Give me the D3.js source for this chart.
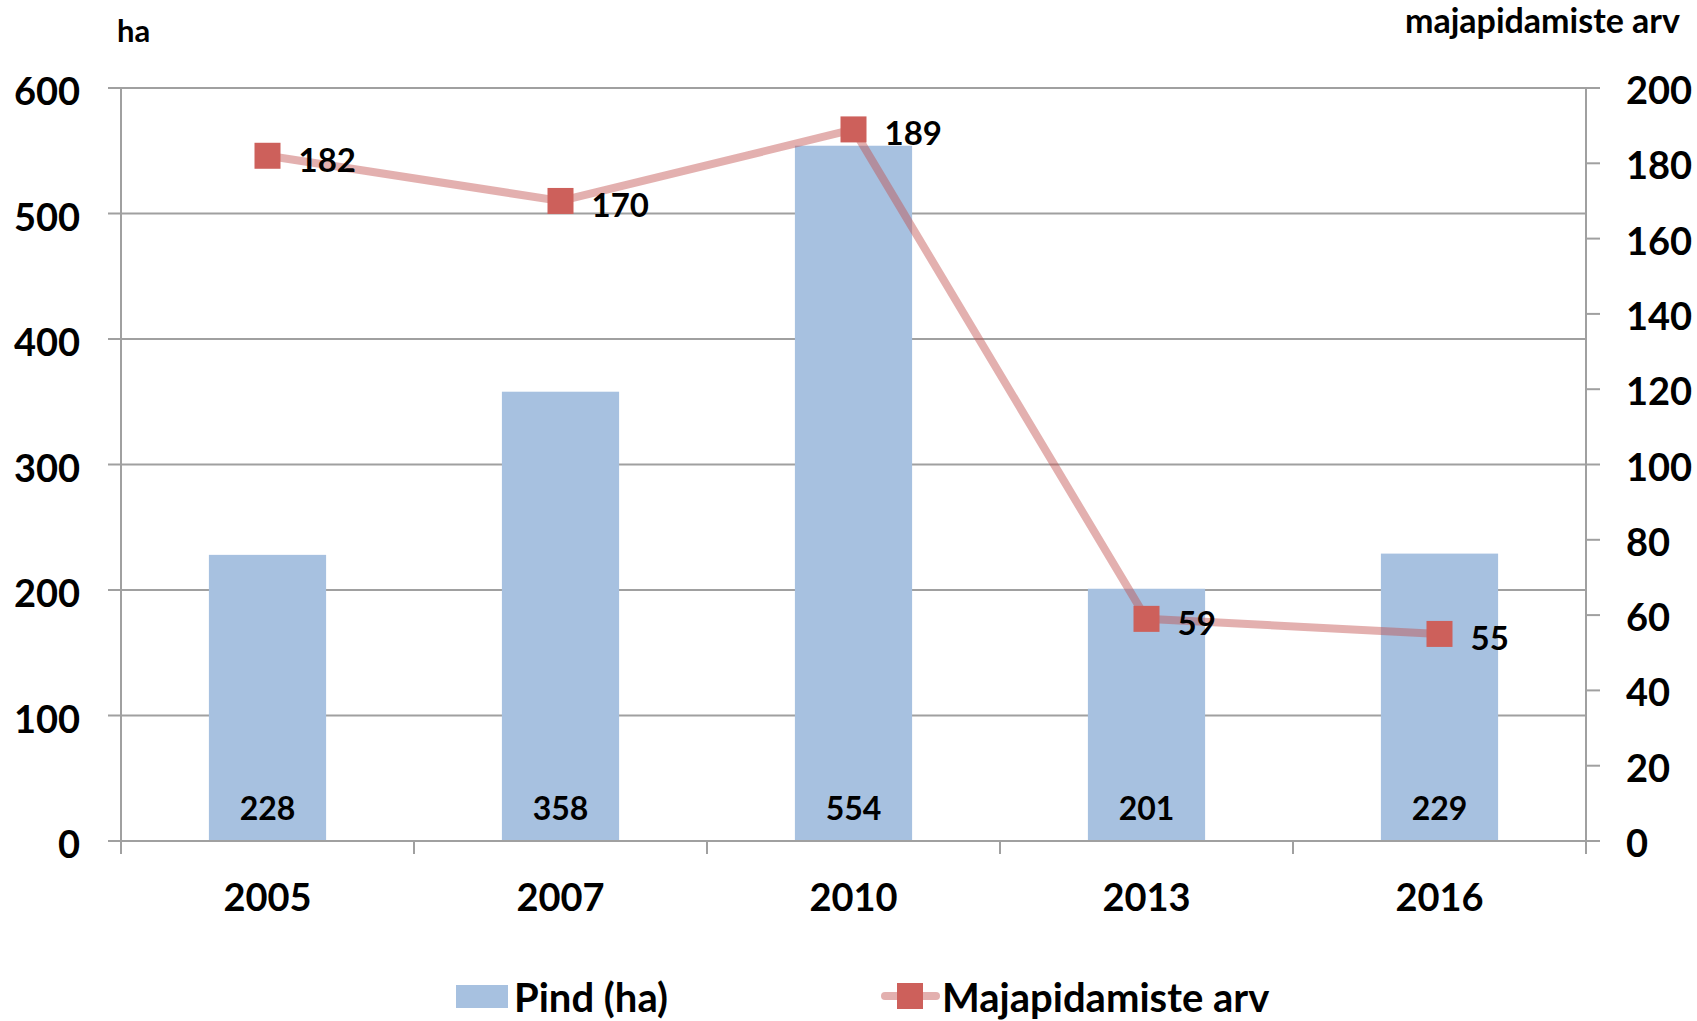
<!DOCTYPE html>
<html>
<head>
<meta charset="utf-8">
<script src="https://cdn.jsdelivr.net/npm/d3@7"></script>
<style>
    body { margin: 0; background: #fff; }
    svg text { font-family: Lato, "Open Sans", sans-serif; font-weight: bold; fill: #000; }
</style>
</head>
<body>
<svg width="1697" height="1021"></svg>
<script>
// chart data
const years = ["2005", "2007", "2010", "2013", "2016"];
const area = [228, 358, 554, 201, 229];          // Pind (ha)
const households = [182, 170, 189, 59, 55];      // Majapidamiste arv
const leftTicks = [0, 100, 200, 300, 400, 500, 600];
const rightTicks = [0, 20, 40, 60, 80, 100, 120, 140, 160, 180, 200];

const svg = d3.select("svg");
const plotLeft = 121, plotRight = 1586, plotTop = 88, plotBottom = 841;
const grey = "#a0a0a0";

const x = d3.scaleBand().domain(years).range([plotLeft, plotRight]).paddingInner(0.6).paddingOuter(0.3);
const band = d3.scaleBand().domain(years).range([plotLeft, plotRight]);
const yL = d3.scaleLinear().domain([0, 600]).range([plotBottom, plotTop]);
const yR = d3.scaleLinear().domain([0, 200]).range([plotBottom, plotTop]);

// gridlines
svg.append("g")
    .selectAll("line")
    .data(leftTicks)
    .join("line")
    .attr("x1", plotLeft - 13)
    .attr("x2", plotRight)
    .attr("y1", d => yL(d))
    .attr("y2", d => yL(d))
    .attr("stroke", grey)
    .attr("stroke-width", 2);

// left axis labels
svg.append("g")
    .selectAll("text")
    .data(leftTicks)
    .join("text")
    .attr("x", 80)
    .attr("y", d => yL(d) + 17)
    .attr("text-anchor", "end")
    .attr("font-size", 38)
    .text(d => d);

// right axis ticks and labels
svg.append("g")
    .selectAll("line")
    .data(rightTicks)
    .join("line")
    .attr("x1", plotRight)
    .attr("x2", plotRight + 14)
    .attr("y1", d => yR(d))
    .attr("y2", d => yR(d))
    .attr("stroke", grey)
    .attr("stroke-width", 2);

svg.append("g")
    .selectAll("text")
    .data(rightTicks)
    .join("text")
    .attr("x", 1626)
    .attr("y", d => yR(d) + 16)
    .attr("font-size", 38)
    .text(d => d);

// vertical axis lines
[plotLeft, plotRight].forEach(px => {
    svg.append("line")
        .attr("x1", px).attr("x2", px)
        .attr("y1", plotTop).attr("y2", plotBottom + 13)
        .attr("stroke", grey).attr("stroke-width", 2);
});

// category tick marks
svg.append("g")
    .selectAll("line")
    .data(years.slice(1))
    .join("line")
    .attr("x1", d => band(d))
    .attr("x2", d => band(d))
    .attr("y1", plotBottom)
    .attr("y2", plotBottom + 13)
    .attr("stroke", grey)
    .attr("stroke-width", 2);

// bars
svg.append("g")
    .selectAll("rect")
    .data(area)
    .join("rect")
    .attr("x", (d, i) => x(years[i]))
    .attr("width", x.bandwidth())
    .attr("y", d => yL(d))
    .attr("height", d => plotBottom - yL(d))
    .attr("fill", "#a7c1e0");

// redraw baseline over bars
svg.append("line")
    .attr("x1", plotLeft - 13).attr("x2", plotRight)
    .attr("y1", plotBottom).attr("y2", plotBottom)
    .attr("stroke", grey).attr("stroke-width", 2);

// bar labels
svg.append("g")
    .selectAll("text")
    .data(area)
    .join("text")
    .attr("x", (d, i) => x(years[i]) + x.bandwidth() / 2)
    .attr("y", 820)
    .attr("text-anchor", "middle")
    .attr("font-size", 32)
    .text(d => d);

// x labels
svg.append("g")
    .selectAll("text")
    .data(years)
    .join("text")
    .attr("x", d => x(d) + x.bandwidth() / 2)
    .attr("y", 911)
    .attr("text-anchor", "middle")
    .attr("font-size", 38)
    .text(d => d);

// line series
const cx = (d, i) => x(years[i]) + x.bandwidth() / 2;
const line = d3.line().x(cx).y(d => yR(d));

svg.append("path")
    .datum(households)
    .attr("d", line)
    .attr("fill", "none")
    .attr("stroke", "#c0504d")
    .attr("stroke-opacity", 0.45)
    .attr("stroke-width", 8);

svg.append("g")
    .selectAll("rect")
    .data(households)
    .join("rect")
    .attr("x", (d, i) => cx(d, i) - 13)
    .attr("y", d => yR(d) - 13)
    .attr("width", 26)
    .attr("height", 26)
    .attr("fill", "#cd605b");

svg.append("g")
    .selectAll("text")
    .data(households)
    .join("text")
    .attr("x", (d, i) => cx(d, i) + 31)
    .attr("y", d => yR(d) + 16)
    .attr("font-size", 33)
    .text(d => d);

// axis titles
svg.append("text")
    .attr("x", 117)
    .attr("y", 42)
    .attr("font-size", 31)
    .text("ha");

svg.append("text")
    .attr("x", 1680)
    .attr("y", 33)
    .attr("text-anchor", "end")
    .attr("font-size", 34)
    .text("majapidamiste arv");

// legend
svg.append("rect")
    .attr("x", 456).attr("y", 985)
    .attr("width", 52).attr("height", 23)
    .attr("fill", "#a7c1e0");
svg.append("text")
    .attr("x", 514).attr("y", 1012)
    .attr("font-size", 40)
    .text("Pind (ha)");

svg.append("line")
    .attr("x1", 885).attr("x2", 936)
    .attr("y1", 996).attr("y2", 996)
    .attr("stroke", "#c0504d")
    .attr("stroke-opacity", 0.45)
    .attr("stroke-width", 8)
    .attr("stroke-linecap", "round");
svg.append("rect")
    .attr("x", 897).attr("y", 983)
    .attr("width", 26).attr("height", 26)
    .attr("fill", "#cd605b");
svg.append("text")
    .attr("x", 942).attr("y", 1012)
    .attr("font-size", 40)
    .text("Majapidamiste arv");
</script>
</body>
</html>
